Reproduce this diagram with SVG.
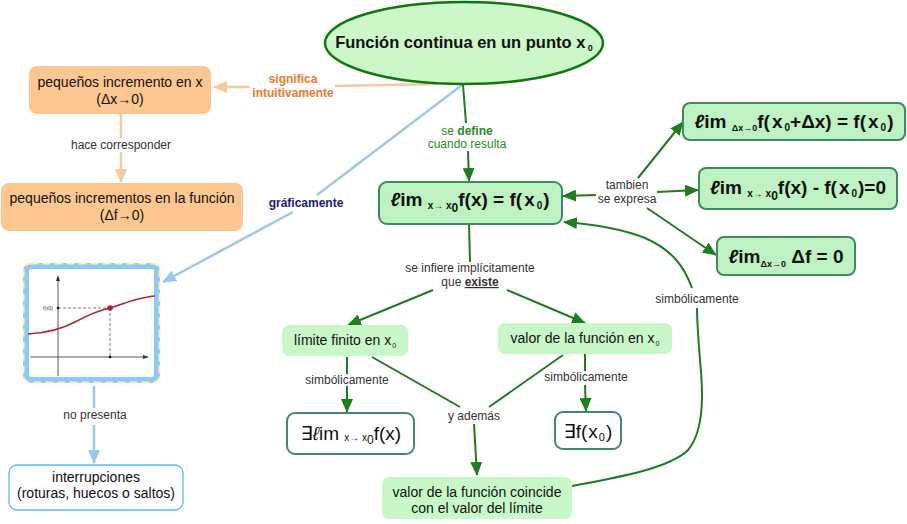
<svg xmlns="http://www.w3.org/2000/svg" width="907" height="524" viewBox="0 0 907 524">
<style>
text{font-family:"Liberation Sans",Arial,"DejaVu Sans",sans-serif;}
.lbl{font-size:12px;fill:#333;text-anchor:middle;}
.glbl{font-size:12px;fill:#2a8a2a;text-anchor:middle;}
.nt{font-size:14px;fill:#111;text-anchor:middle;}
.fm{font-size:19px;font-weight:bold;fill:#111;text-anchor:middle;}
.ex{font-size:19px;fill:#111;text-anchor:middle;}
.gline{fill:none;stroke:#1e7e1e;stroke-width:2;}
.oline{fill:none;stroke:#f9c89c;stroke-width:2.5;}
.bline{fill:none;stroke:#9cc8f0;stroke-width:2.5;}
.gnode{fill:#c8f8c8;}
.fnode{fill:#bff2c2;stroke:#3d8b5e;stroke-width:2;}
.onode{fill:#fcc690;}
</style>
<defs>
<marker id="ag" viewBox="0 0 14 12" refX="13" refY="6" markerWidth="14" markerHeight="12" orient="auto" markerUnits="userSpaceOnUse"><path d="M0,0 L14,6 L0,12 z" fill="#1e7e1e"/></marker>
<marker id="ao" viewBox="0 0 14 12" refX="13" refY="6" markerWidth="14" markerHeight="12" orient="auto" markerUnits="userSpaceOnUse"><path d="M0,0 L14,6 L0,12 z" fill="#f9c89c"/></marker>
<marker id="ab" viewBox="0 0 14 12" refX="13" refY="6" markerWidth="14" markerHeight="12" orient="auto" markerUnits="userSpaceOnUse"><path d="M0,0 L14,6 L0,12 z" fill="#9cc8f0"/></marker>
</defs>
<rect width="907" height="524" fill="#fff"/>

<g id="connectors">
<path class="oline" d="M437,84 L335,86"/>
<path class="oline" d="M250,87 L214,87" marker-end="url(#ao)"/>
<path class="oline" d="M121,114 L121,138"/>
<path class="oline" d="M121,152 L121,182" marker-end="url(#ao)"/>
<path class="bline" d="M462,85 L317,195"/>
<path class="bline" d="M293,212 L163,282" marker-end="url(#ab)"/>
<path class="bline" d="M94,386 L94,408"/>
<path class="bline" d="M94,425 L94,463" marker-end="url(#ab)"/>
<path class="gline" d="M463,85 L466,123"/>
<path class="gline" d="M468,151 L469,181" marker-end="url(#ag)"/>
<path class="gline" d="M469,224 L470,262"/>
<path class="gline" d="M433,290 L348,325" marker-end="url(#ag)"/>
<path class="gline" d="M507,290 L585,323" marker-end="url(#ag)"/>
<path class="gline" d="M596,195 L563,196" marker-end="url(#ag)"/>
<path class="gline" d="M638,178 L683,122" marker-end="url(#ag)"/>
<path class="gline" d="M657,192 L698,190" marker-end="url(#ag)"/>
<path class="gline" d="M647,208 L716,255" marker-end="url(#ag)"/>
<path class="gline" d="M347,357 L347,374"/>
<path class="gline" d="M347,386 L347,412" marker-end="url(#ag)"/>
<path class="gline" d="M585,354 L585,371"/>
<path class="gline" d="M585,385 L586,411" marker-end="url(#ag)"/>
<path class="gline" d="M372,357 L460,407"/>
<path class="gline" d="M563,355 L489,407"/>
<path class="gline" d="M474,424 L477,475" marker-end="url(#ag)"/>
<path class="gline" d="M572,486 C620,477 670,468 688,450 C705,430 703,390 700,360 C698,335 697,320 697,308"/>
<path class="gline" d="M692,288 C684,266 672,250 645,238 C620,228 590,224 564,222" marker-end="url(#ag)"/>
</g>
<g id="connector-labels">
<text font-size="12" font-weight="bold" fill="#f07a2a" text-anchor="middle" x="293" y="83">significa</text>
<text font-size="12" font-weight="bold" fill="#f07a2a" text-anchor="middle" x="293" y="97">intuitivamente</text>
<text class="lbl" x="121" y="149">hace corresponder</text>
<text font-size="12" font-weight="bold" fill="#1a1a80" text-anchor="middle" x="306" y="207">gráficamente</text>
<text class="lbl" x="95" y="419">no presenta</text>
<text class="glbl" x="467" y="135">se <tspan font-weight="bold">define</tspan></text>
<text class="glbl" x="467" y="148">cuando resulta</text>
<text class="lbl" x="627" y="189">tambien</text>
<text class="lbl" x="627" y="203">se expresa</text>
<text class="lbl" x="470" y="272">se infiere implícitamente</text>
<text class="lbl" x="470" y="286">que <tspan font-weight="bold" text-decoration="underline">existe</tspan></text>
<text class="lbl" x="347" y="384">simbólicamente</text>
<text class="lbl" x="586" y="381">simbólicamente</text>
<text class="lbl" x="474" y="420">y además</text>
<text class="lbl" x="697" y="303">simbólicamente</text>
</g>

<g id="node-main">
<ellipse cx="464" cy="43" rx="139" ry="41" fill="#ccf7c8" stroke="#117711" stroke-width="2.5"/>
<text x="464" y="48" font-size="16.5" font-weight="bold" fill="#111" text-anchor="middle">Función continua en un punto  x<tspan font-size="9" dy="3"> 0</tspan></text>
</g>

<g id="node-incx">
<rect class="onode" x="29" y="66" width="182" height="48" rx="8"/>
<text class="nt" x="120" y="87">pequeños incremento en x</text>
<text class="nt" x="120" y="104">(Δx→0)</text>
</g>
<g id="node-incf">
<rect class="onode" x="1" y="183" width="242" height="48" rx="8"/>
<text class="nt" x="122" y="203">pequeños incrementos en la función</text>
<text class="nt" x="122" y="220">(Δf→0)</text>
</g>

<g id="node-graph">
<rect x="26" y="266" width="131" height="114" rx="5" fill="#fff" stroke="#8ec8f6" stroke-width="6"/>
<rect x="23.5" y="263.5" width="136" height="119" rx="7" fill="none" stroke="#f8f4a0" stroke-width="2" stroke-dasharray="8,4"/>
<line x1="58" y1="376" x2="58" y2="278" stroke="#333" stroke-width="0.8"/>
<path d="M56,281 L58,275 L60,281 z" fill="#333"/>
<line x1="30" y1="357" x2="146" y2="357" stroke="#333" stroke-width="0.8"/>
<path d="M143,355 L149,357 L143,359 z" fill="#333"/>
<path d="M28,334 C45,333 60,330 75,322 C90,314 100,310 110,308 C125,303 140,297 155,296" fill="none" stroke="#b0203a" stroke-width="1.5"/>
<line x1="58" y1="308" x2="110" y2="308" stroke="#444" stroke-width="0.7" stroke-dasharray="3,2"/>
<line x1="110" y1="308" x2="110" y2="357" stroke="#444" stroke-width="0.7" stroke-dasharray="3,2"/>
<circle cx="110" cy="308" r="2.8" fill="#b0203a"/>
<circle cx="58" cy="308" r="1.3" fill="#111"/>
<circle cx="110" cy="357" r="1.3" fill="#111"/>
<text x="53" y="310" font-size="5" fill="#333" text-anchor="end">f(x0)</text>
</g>

<g id="node-interrupciones">
<rect x="9" y="465" width="174" height="45" rx="8" fill="#fff" stroke="#55c0e6" stroke-width="1.3"/>
<text class="nt" x="96" y="482">interrupciones</text>
<text class="nt" x="96" y="498">(roturas, huecos o saltos)</text>
</g>

<g id="node-def">
<rect class="fnode" x="379" y="182" width="183" height="42" rx="8"/>
<text class="fm" x="470" y="206"><tspan font-style="italic">ℓ</tspan>im  <tspan font-size="10" dy="3">x→ x</tspan><tspan font-size="12" dy="3">0</tspan><tspan dy="-6">f(x) = f(</tspan><tspan dx="2">x</tspan><tspan font-size="10" dy="3" dx="2">0</tspan><tspan dy="-3" dx="1">)</tspan></text>
</g>

<g id="node-formA">
<rect class="fnode" x="683" y="103" width="222" height="37" rx="7"/>
<text class="fm" x="794" y="128"><tspan font-style="italic">ℓ</tspan>im  <tspan font-size="9" dy="3">Δx→0</tspan><tspan dy="-3">f(</tspan><tspan dx="2">x</tspan><tspan font-size="10" dy="3" dx="2">0</tspan><tspan dy="-3">+Δx) = f(</tspan><tspan dx="2">x</tspan><tspan font-size="10" dy="3" dx="2">0</tspan><tspan dy="-3" dx="1">)</tspan></text>
</g>
<g id="node-formB">
<rect class="fnode" x="699" y="168" width="198" height="41" rx="7"/>
<text class="fm" x="798" y="194"><tspan font-style="italic">ℓ</tspan>im  <tspan font-size="10" dy="3">x→ x</tspan><tspan font-size="12" dy="3">0</tspan><tspan dy="-6">f(x) - f(</tspan><tspan dx="2">x</tspan><tspan font-size="10" dy="3" dx="2">0</tspan><tspan dy="-3" dx="1">)=0</tspan></text>
</g>
<g id="node-formC">
<rect class="fnode" x="717" y="237" width="138" height="38" rx="7"/>
<text class="fm" x="786" y="263"><tspan font-style="italic">ℓ</tspan>im<tspan font-size="9" dy="4">Δx→0</tspan><tspan dy="-4"> Δf = 0</tspan></text>
</g>

<g id="node-limfin">
<rect class="gnode" x="282" y="325" width="126" height="31" rx="7"/>
<text class="nt" x="345" y="345">límite finito en  x<tspan font-size="7" dy="3" dx="1">0</tspan></text>
</g>
<g id="node-valfun">
<rect class="gnode" x="498" y="323" width="174" height="31" rx="7"/>
<text class="nt" x="585" y="343">valor de la función en  x<tspan font-size="7" dy="3" dx="1">0</tspan></text>
</g>
<g id="node-exlim">
<rect x="287" y="413" width="127" height="41" rx="8" fill="#fff" stroke="#3d8b6a" stroke-width="2"/>
<text class="ex" x="351" y="440">∃<tspan font-style="italic">ℓ</tspan>im <tspan font-size="10" dy="1">x→ x</tspan><tspan font-size="12" dy="3">0</tspan><tspan dy="-4">f(x)</tspan></text>
</g>
<g id="node-exf">
<rect x="555" y="412" width="66" height="37" rx="8" fill="#fff" stroke="#3d8b6a" stroke-width="2"/>
<text class="ex" x="588" y="438">∃f(<tspan dx="1">x</tspan><tspan font-size="11" dy="3" dx="1">0</tspan><tspan dy="-3" dx="1">)</tspan></text>
</g>
<g id="node-coincide">
<rect class="gnode" x="382" y="477" width="190" height="42" rx="7"/>
<text class="nt" x="477" y="497">valor de la función coincide</text>
<text class="nt" x="477" y="513">con el valor del límite</text>
</g>
</svg>
